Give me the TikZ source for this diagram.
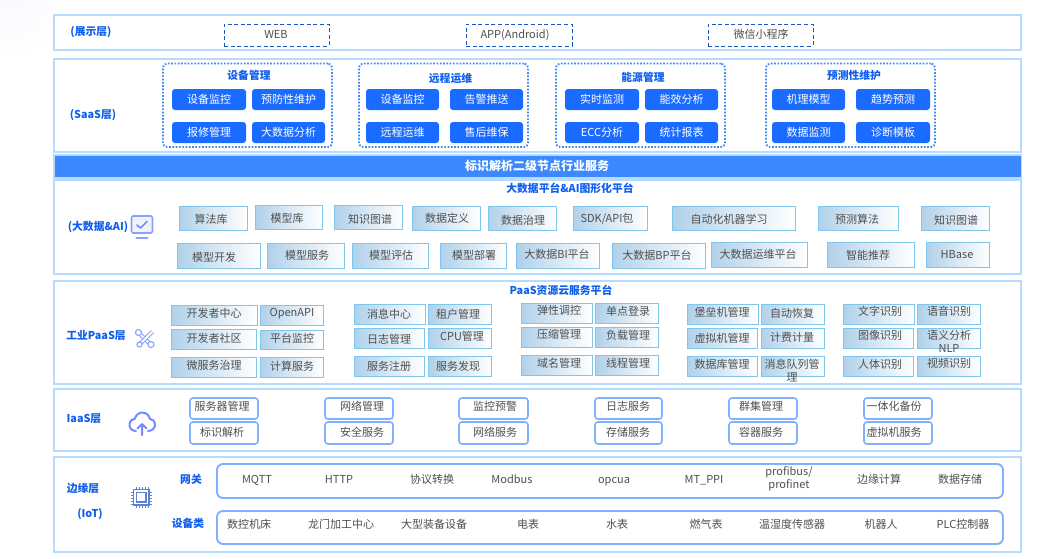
\documentclass[tikz,border=0pt]{standalone}
\usepackage{fontspec}
\setmainfont{Noto Sans CJK SC}
\definecolor{frameblue}{HTML}{B5DCFF}
\definecolor{bandblue}{HTML}{3C89FF}
\definecolor{btnblue}{HTML}{1A6BFF}
\definecolor{labelblue}{HTML}{0F5FEE}
\definecolor{dotblue}{HTML}{3F8AF0}
\definecolor{dashblue}{HTML}{1A58BE}
\definecolor{itemgray}{HTML}{505050}
\definecolor{gborder}{HTML}{7FC6EA}
\definecolor{gleft}{HTML}{B0D1EA}
\definecolor{rborder}{HTML}{80B0FF}
\definecolor{iconblue}{HTML}{86A4FF}
\definecolor{chipblue}{HTML}{5D82D2}
\tikzset{
  anybox/.style={inner sep=0pt,outer sep=0pt,anchor=north west},
  layerbox/.style={anybox,draw=frameblue,line width=1.8pt,fill=white},
  bandbox/.style={anybox,fill=bandblue},
  dashbox/.style={anybox,draw=dashblue,line width=1pt,dash pattern=on 4pt off 2.6pt},
  dotbox/.style={anybox,draw=dotblue,line width=1.8pt,dash pattern=on 1.7pt off 1.6pt,rounded corners=4pt},
  btnbox/.style={anybox,fill=btnblue,rounded corners=3pt},
  gradbox/.style={anybox,draw=gborder,line width=0.8pt,left color=gleft,right color=white},
  roundbox/.style={anybox,draw=rborder,line width=1.6pt,fill=white,rounded corners=3pt},
  bigbox/.style={anybox,draw=rborder,line width=1.9pt,fill=white,rounded corners=6pt},
  mltext/.style={inner sep=0pt,text=itemgray,font=\fontsize{11}{13}\selectfont,align=center},
  itemtext/.style={mltext,text height=9.6pt,text depth=1.4pt},
  btntext/.style={inner sep=0pt,text=white,font=\fontsize{11}{13}\selectfont,text height=9.6pt,text depth=1.4pt},
  headtext/.style={inner sep=0pt,text=labelblue,font=\fontsize{10.8}{13}\selectfont\bfseries,text height=9.4pt,text depth=1.4pt},
  bandtext/.style={inner sep=0pt,text=white,font=\fontsize{12}{14}\selectfont\bfseries},
  iconline/.style={draw=iconblue,line width=1.7pt,line cap=round,line join=round},
}
\newcounter{bxn}
% style, x1,y1,x2,y2
\newcommand{\rbx}[5]{\stepcounter{bxn}\pgfmathsetmacro\bxw{#4-#2}\pgfmathsetmacro\bxh{#5-#3}%
  \node[#1,minimum width=\bxw pt,minimum height=\bxh pt] (box\arabic{bxn}) at (#2,#3) {};}
% style, cx, cy, text
\newcommand{\lbl}[4]{\stepcounter{bxn}\node[#1] (txt\arabic{bxn}) at (#2,#3) {#4};}
% box + text
\newcommand{\gb}[7]{\rbx{gradbox}{#1}{#2}{#3}{#4}\lbl{itemtext}{#5}{#6}{#7}}
\newcommand{\gbm}[7]{\rbx{gradbox}{#1}{#2}{#3}{#4}\lbl{mltext}{#5}{#6}{#7}}
\newcommand{\bb}[5]{\rbx{btnbox}{#1}{#2}{#3}{#4}%
  \pgfmathsetmacro\bcx{(#1+#3)/2}\pgfmathsetmacro\bcy{(#2+#4)/2}\lbl{btntext}{\bcx}{\bcy}{#5}}
\newcommand{\rb}[7]{\rbx{roundbox}{#1}{#2}{#3}{#4}\lbl{itemtext}{#5}{#6}{#7}}
\begin{document}
\begin{tikzpicture}[x=1pt,y=-1pt]
\useasboundingbox (0,0) rectangle (1050,558);
\fill[white] (0,0) rectangle (1050,558);
\begin{scope}
\clip (0,0) rectangle (1050,558);
\shade[inner color=blue!2.5,outer color=white] (10,0) circle (60);
\end{scope}
% layer frames
\rbx{layerbox}{54}{15}{1021}{50}
\rbx{layerbox}{54}{59}{1021}{152}
\rbx{layerbox}{54}{155}{1021}{178}
\rbx{bandbox}{55}{156}{1020.5}{177}
\rbx{layerbox}{54}{180}{1021}{274}
\rbx{layerbox}{54}{281}{1021}{384}
\rbx{layerbox}{54}{389}{1021}{451}
\rbx{layerbox}{54}{457}{1021}{552}
\lbl{bandtext}{537}{166}{标识解析二级节点行业服务}
% layer labels
\lbl{headtext}{91}{31}{(展示层)}
\lbl{headtext}{93}{114}{(SaaS层)}
\lbl{headtext}{98}{226}{(大数据\&AI)}
\lbl{headtext}{96}{335}{工业PaaS层}
\lbl{headtext}{84}{418}{IaaS层}
\lbl{headtext}{83}{488}{边缘层}
\lbl{headtext}{90}{513}{(IoT)}
\lbl{headtext}{191}{479}{网关}
\lbl{headtext}{188}{523}{设备类}
% presentation
\rbx{dashbox}{224}{24}{329}{46}\lbl{itemtext}{276}{34}{WEB}
\rbx{dashbox}{466}{24}{572}{46}\lbl{itemtext}{515}{34}{APP(Android)}
\rbx{dashbox}{708}{24}{813}{46}\lbl{itemtext}{761}{34}{微信小程序}
% SaaS
\rbx{dotbox}{163}{63.5}{332}{147}\lbl{headtext}{249}{75}{设备管理}
\bb{172}{89}{246}{110}{设备监控}
\bb{252}{89}{325}{110}{预防性维护}
\bb{172}{122}{246}{143}{报修管理}
\bb{252}{122}{325}{143}{大数据分析}
\rbx{dotbox}{359}{63.5}{528}{147}\lbl{headtext}{450.5}{78}{远程运维}
\bb{366}{89}{439}{110}{设备监控}
\bb{450}{89}{523}{110}{告警推送}
\bb{366}{122}{439}{143}{远程运维}
\bb{450}{122}{523}{143}{售后维保}
\rbx{dotbox}{556}{63.5}{725}{147}\lbl{headtext}{643}{77}{能源管理}
\bb{565}{89}{639}{110}{实时监测}
\bb{645}{89}{718}{110}{能效分析}
\bb{565}{122}{639}{143}{ECC分析}
\bb{645}{122}{718}{143}{统计报表}
\rbx{dotbox}{766}{63.5}{935}{147}\lbl{headtext}{854}{75}{预测性维护}
\bb{772}{89}{845}{110}{机理模型}
\bb{856}{89}{930}{110}{趋势预测}
\bb{772}{122}{845}{143}{数据监测}
\bb{856}{122}{930}{143}{诊断模板}
% big data
\lbl{headtext}{570}{188}{大数据平台\&AI图形化平台}
\gb{179}{206}{247}{230}{211}{219}{算法库}
\gb{255}{205}{322}{229}{287}{218}{模型库}
\gb{334}{205}{402}{229.5}{370}{219}{知识图谱}
\gb{412}{206}{480}{230}{447}{218}{数据定义}
\gb{488}{206}{556}{230}{523}{220}{数据治理}
\gb{573}{206}{647}{230}{607}{218}{SDK/API包}
\gb{672}{206}{795}{230}{729}{219}{自动化机器学习}
\gb{818}{206}{898}{230}{857}{219}{预测算法}
\gb{921}{206}{989}{230}{956}{220}{知识图谱}
\gb{177}{243}{260}{268}{214}{257}{模型开发}
\gb{267}{243}{344}{268}{307}{255}{模型服务}
\gb{352}{243}{428}{268}{391}{255}{模型评估}
\gb{440}{243}{506}{268}{474}{255}{模型部署}
\gb{516}{243}{599}{268}{557}{254}{大数据BI平台}
\gb{612}{243}{705}{268}{657}{255}{大数据BP平台}
\gb{711}{242}{807}{267}{758}{254}{大数据运维平台}
\gb{827}{242}{914}{267}{868}{255}{智能推荐}
\gb{926}{242}{989}{267}{957}{254}{HBase}
% PaaS
\lbl{headtext}{561}{290}{PaaS资源云服务平台}
\gb{171}{305}{257}{325}{214}{313}{开发者中心}
\gb{260}{305}{323}{325}{292}{312}{OpenAPI}
\gb{171}{329}{256}{349}{214}{338}{开发者社区}
\gb{260}{330}{323}{349}{292}{338}{平台监控}
\gb{171}{357}{256}{377}{214}{365}{微服务治理}
\gb{260}{357}{323}{377}{292}{366}{计算服务}
\gb{354}{304}{425}{324}{389}{314}{消息中心}
\gb{428}{304}{491}{324}{458}{314}{租户管理}
\gb{354}{328}{424}{348}{389}{339}{日志管理}
\gb{428}{328}{491}{348}{462}{336}{CPU管理}
\gb{354}{356}{424}{376}{389}{366}{服务注册}
\gb{428}{356}{491}{376}{458}{366}{服务发现}
\gb{521}{303}{592}{323}{559}{310}{弹性调控}
\gb{595}{303}{658}{323}{628}{311}{单点登录}
\gb{521}{327}{592}{347}{559}{334}{压缩管理}
\gb{595}{327}{658}{347}{628}{335}{负载管理}
\gb{521}{355}{592}{375}{559}{363}{域名管理}
\gb{595}{355}{658}{375}{628}{363}{线程管理}
\gb{687}{304}{758}{324}{722}{312}{堡垒机管理}
\gb{761}{304}{824}{324}{792}{313}{自动恢复}
\gb{687}{328}{757}{348}{722}{338}{虚拟机管理}
\gb{761}{328}{824}{348}{792}{337}{计费计量}
\gb{687}{356}{757}{376}{722}{364}{数据库管理}
\gbm{761}{356}{824}{376}{792}{370.5}{消息队列管\\理}
\gb{843}{304}{914}{324}{880}{311}{文字识别}
\gb{917}{304}{980}{324}{949}{311}{语音识别}
\gb{843}{328}{913}{348}{880}{335}{图像识别}
\gbm{917}{328}{980}{348}{949}{341.5}{语义分析\\NLP}
\gb{843}{356}{913}{376}{880}{364}{人体识别}
\gb{917}{356}{980}{376}{949}{363}{视频识别}
% IaaS
\rb{190}{398}{258}{419}{222}{406}{服务器管理}
\rb{190}{422}{258}{444}{222}{432}{标识解析}
\rb{325}{398}{393}{419}{362}{406}{网络管理}
\rb{325}{422}{393}{444}{362}{432}{安全服务}
\rb{459}{398}{528}{419}{495}{406}{监控预警}
\rb{459}{422}{528}{444}{495}{432}{网络服务}
\rb{595}{398}{662}{419}{628}{406}{日志服务}
\rb{595}{422}{662}{444}{628}{432}{存储服务}
\rb{729}{398}{797}{419}{761}{406}{群集管理}
\rb{729}{422}{797}{444}{761}{432}{容器服务}
\rb{864}{398}{932}{419}{894}{406}{一体化备份}
\rb{864}{422}{932}{444}{894}{432}{虚拟机服务}
% Edge
\rbx{bigbox}{217}{464}{1003}{498}
\rbx{bigbox}{217}{511}{1003}{544}
\lbl{itemtext}{257}{479}{MQTT}
\lbl{itemtext}{339}{479}{HTTP}
\lbl{itemtext}{432}{479}{协议转换}
\lbl{itemtext}{512}{479}{Modbus}
\lbl{itemtext}{614}{479}{opcua}
\lbl{itemtext}{704}{479}{MT\_PPI}
\lbl{mltext}{789}{479}{profibus/\\profinet}
\lbl{itemtext}{879}{479}{边缘计算}
\lbl{itemtext}{960}{479}{数据存储}
\lbl{itemtext}{249}{524}{数控机床}
\lbl{itemtext}{341}{524}{龙门加工中心}
\lbl{itemtext}{434}{524}{大型装备设备}
\lbl{itemtext}{528}{524}{电表}
\lbl{itemtext}{617}{524}{水表}
\lbl{itemtext}{706}{524}{燃气表}
\lbl{itemtext}{792}{524}{温湿度传感器}
\lbl{itemtext}{881}{524}{机器人}
\lbl{itemtext}{963}{524}{PLC控制器}
% monitor icon
\draw[iconline,fill=blue!5,rounded corners=1.5pt] (131.5,216) rectangle (152.5,233);
\draw[iconline,draw=iconblue!85!blue] (137,225) -- (140.5,228) -- (147,221.5);
\draw[iconline,line width=2.2pt] (136.5,238) -- (147.5,238);
% tools icon
\draw[draw=iconblue,line width=1.1pt,double=white,double distance=2pt] (139,333) -- (151,345);
\draw[draw=iconblue,line width=1.1pt,double=white,double distance=2pt] (152.5,331.5) -- (140,344);
\draw[draw=iconblue,line width=1.1pt,fill=white] (138.5,332.5) circle (3);
\draw[draw=iconblue,line width=1.1pt,fill=white] (151,344.5) circle (3);
\draw[draw=iconblue,line width=1.1pt,fill=white] (139.5,344.5) circle (2.6);
% cloud icon
\draw[iconline,draw=iconblue!85!blue,line width=2pt] (136,431) .. controls (131,431) and (129,427) .. (129.5,424)
  .. controls (130,420) and (133,419) .. (134.5,419) .. controls (136,415) and (139,412.5) .. (142,412.5)
  .. controls (146,412.5) and (149,415) .. (150,419) .. controls (152.5,419) and (155,421) .. (155,425)
  .. controls (155,428) and (152,431) .. (148,431);
\draw[iconline,draw=iconblue!85!blue,line width=2pt] (142,435) -- (142,424.5) (137.5,428.5) -- (142,424) -- (146.5,428.5);
% chip icon
\draw[draw=chipblue,line width=1.1pt] (133.5,489.5) rectangle (149,505);
\draw[draw=chipblue,line width=1.3pt] (136.5,492.5) rectangle (146,502);
\foreach \p in {136,139,142,145,148} {
  \draw[draw=chipblue,line width=0.7pt] (\p,487) -- (\p,489.5);
  \draw[draw=chipblue,line width=0.7pt] (\p,505) -- (\p,507.5);
}
\foreach \p in {492,495,498,501,504} {
  \draw[draw=chipblue,line width=0.7pt] (130.5,\p) -- (133.5,\p);
  \draw[draw=chipblue,line width=0.7pt] (149,\p) -- (152,\p);
}
\end{tikzpicture}
\end{document}
